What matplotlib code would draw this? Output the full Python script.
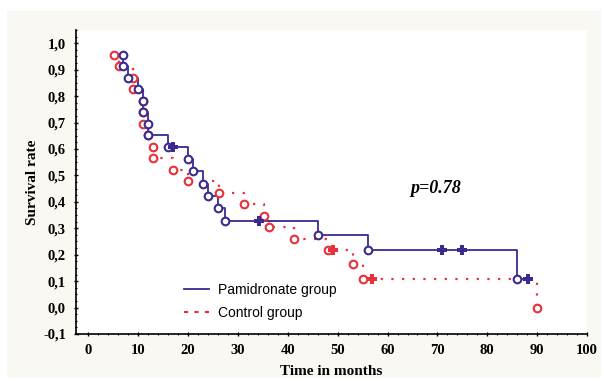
import matplotlib.pyplot as plt
from matplotlib.patches import Rectangle
from matplotlib.lines import Line2D
from matplotlib.ticker import MultipleLocator, FuncFormatter

# Kaplan-Meier points: time (months), survival, censored flag
pam_time = [7, 7, 8, 10, 11, 11, 12, 12, 16, 17, 20, 21, 23, 24, 26, 27.3, 34.2, 46, 56, 70.9, 74.9, 85.9, 88.1]
pam_surv = [0.957, 0.913, 0.870, 0.826, 0.783, 0.739, 0.696, 0.652, 0.609, 0.609, 0.562, 0.515,
            0.468, 0.421, 0.375, 0.328, 0.328, 0.273, 0.219, 0.219, 0.219, 0.109, 0.109]
pam_cens = [0, 0, 0, 0, 0, 0, 0, 0, 0, 1, 0, 0, 0, 0, 0, 0, 1, 0, 0, 1, 1, 0, 1]

ctl_time = [5.2, 6.2, 9, 9, 11, 11, 11, 12, 13, 13, 17, 20, 26.2, 31.1, 35.2, 36.2, 41.2, 48, 49.1,
            53, 55, 56.9, 89.9]
ctl_surv = [0.957, 0.913, 0.870, 0.826, 0.783, 0.739, 0.696, 0.652, 0.609, 0.565, 0.522, 0.478,
            0.435, 0.391, 0.348, 0.304, 0.261, 0.217, 0.217, 0.163, 0.109, 0.109, 0.0]
ctl_cens = [0, 0, 0, 0, 0, 0, 0, 0, 0, 0, 0, 0, 0, 0, 0, 0, 0, 0, 1, 0, 0, 1, 0]

BLUE = '#3b2a90'
RED = '#e8303a'

fig = plt.figure(figsize=(6.04, 3.81), dpi=100, facecolor='white')
panel = Rectangle((7 / 604, 3 / 381), 594 / 604, 367 / 381, transform=fig.transFigure,
                  facecolor='#f9f8f3', edgecolor='none', zorder=-10)
fig.add_artist(panel)
ax = fig.add_axes([76 / 604, 47 / 381, 511 / 604, 304 / 381])
ax.set_facecolor('white')


def km_plot(t, s, c, color, ls, lw):
    ax.step(t, s, where='post', color=color, linestyle=ls, linewidth=lw, zorder=2)
    ev_t = [x for x, f in zip(t, c) if not f]
    ev_s = [y for y, f in zip(s, c) if not f]
    ce_t = [x for x, f in zip(t, c) if f]
    ce_s = [y for y, f in zip(s, c) if f]
    ax.plot(ev_t, ev_s, 'o', ms=5.5, mfc='white', mec=color, mew=1.5, zorder=3)
    ax.plot(ce_t, ce_s, 'P', ms=7, color=color, mew=0, zorder=3)


km_plot(ctl_time, ctl_surv, ctl_cens, RED, (0, (1, 3.8)), 1.6)
km_plot(pam_time, pam_surv, pam_cens, BLUE, '-', 1.3)

ax.set_xlim(-2.5, 100)
ax.set_ylim(-0.1, 1.05)
ax.xaxis.set_major_locator(MultipleLocator(10))
ax.yaxis.set_major_locator(MultipleLocator(0.1))
ax.xaxis.set_minor_locator(MultipleLocator(2))
ax.yaxis.set_minor_locator(MultipleLocator(0.025))
ax.yaxis.set_major_formatter(FuncFormatter(lambda v, p: f'{v:.1f}'.replace('.', ',').replace('-0,0', '0,0')))

for side in ['top', 'right']:
    ax.spines[side].set_visible(False)
for side in ['left', 'bottom']:
    ax.spines[side].set_linewidth(1.2)
ax.tick_params(which='major', length=2.5, width=1, direction='inout', pad=6)
ax.tick_params(which='minor', length=2, width=0.8, direction='inout')

for lab in ax.get_xticklabels() + ax.get_yticklabels():
    lab.set_fontfamily('Liberation Serif')
    lab.set_fontweight('bold')
    lab.set_fontsize(10.5)

ax.set_xlabel('Time in months', fontfamily='Liberation Serif', fontweight='bold', fontsize=11, labelpad=6)
ax.set_ylabel('Survival rate', fontfamily='Liberation Serif', fontweight='bold', fontsize=11, labelpad=3)

ax.text(64.5, 0.452, 'p=0.78', fontfamily='Liberation Serif', fontweight='bold', fontstyle='italic',
        fontsize=13, va='center', ha='left')

handles = [Line2D([], [], color=BLUE, lw=1.3),
           Line2D([], [], color=RED, lw=1.5, linestyle=(0, (2, 3)))]
ax.legend(handles, ['Pamidronate group', 'Control group'], loc='upper left',
          bbox_to_anchor=(0.186, 0.208), frameon=False, handlelength=1.8, handletextpad=0.7,
          labelspacing=0.6, prop={'family': 'Liberation Sans', 'size': 10})

fig.savefig('out.png', dpi=100, facecolor=fig.get_facecolor())
